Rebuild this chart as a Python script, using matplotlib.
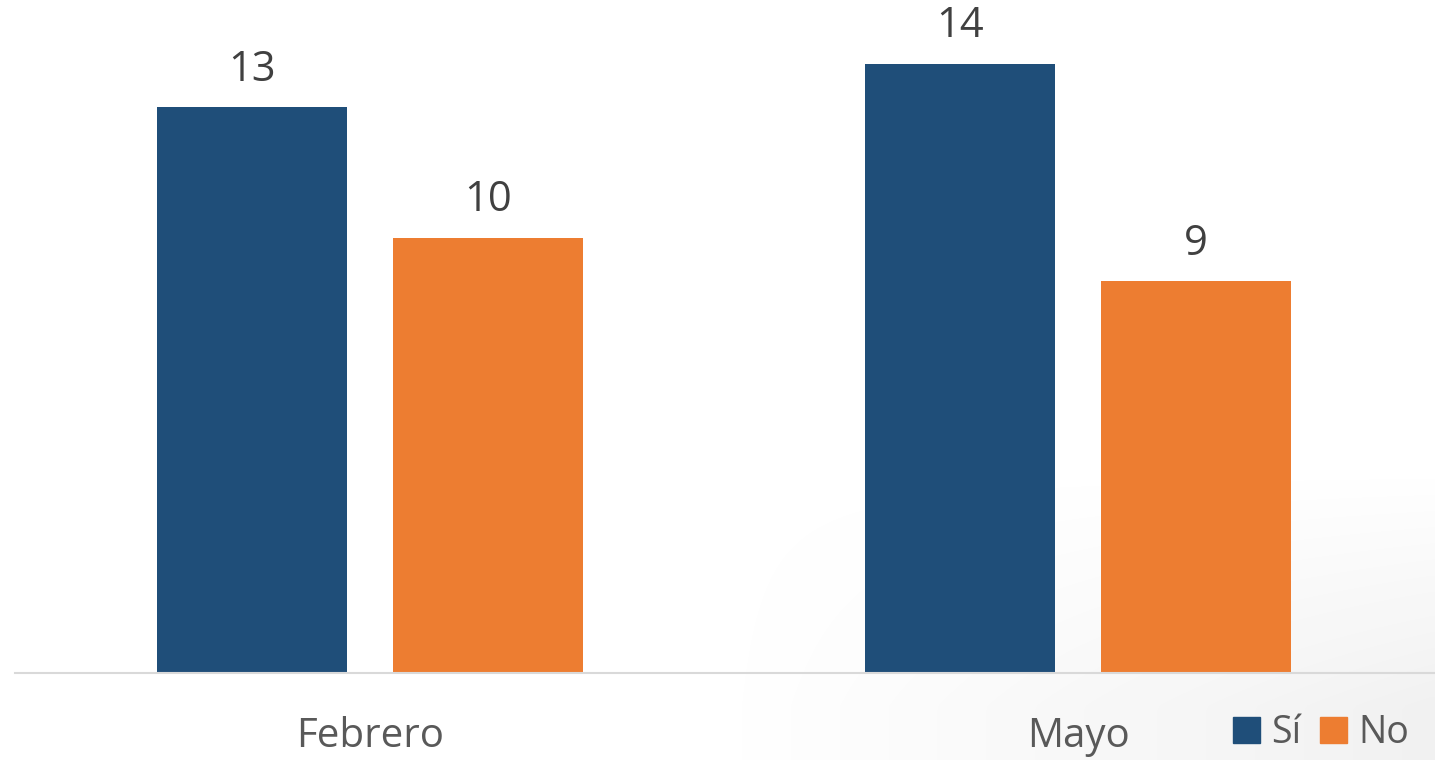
import numpy as np
import matplotlib.pyplot as plt
from matplotlib.patches import Patch

categories = ["Febrero", "Mayo"]
si_values = [13, 14]
no_values = [10, 9]
series_names = ["Sí", "No"]

plt.rcParams['font.family'] = ['Open Sans', 'DejaVu Sans']

fig = plt.figure(figsize=(14.35, 7.6), dpi=100)
fig.patch.set_facecolor('white')

# soft gray shading in the lower right corner
bg = fig.add_axes([0, 0, 1, 1], zorder=-10)
gx, gy = np.meshgrid(np.linspace(0, 1, 300), np.linspace(0, 1, 160))
shade = np.clip((gx - 0.5) * 1.6, 0, 1) * np.clip((0.38 - gy) * 3.2, 0, 1)
bg.imshow(shade, cmap='Greys', vmin=0, vmax=7, origin='lower',
          extent=[0, 1, 0, 1], aspect='auto', interpolation='bilinear')
bg.set_axis_off()

ax = fig.add_axes([15 / 1435, 87 / 760, 1420 / 1435, 673 / 760])
ax.patch.set_alpha(0)

x = np.arange(len(categories))
w = 0.268
off = 0.1667
b1 = ax.bar(x - off, si_values, w, color='#1F4E79')
b2 = ax.bar(x + off, no_values, w, color='#ED7D31')

for bars in (b1, b2):
    for rect in bars:
        h = rect.get_height()
        ax.annotate(f"{h:g}", (rect.get_x() + rect.get_width() / 2, h),
                    xytext=(0, 12), textcoords='offset points',
                    ha='center', va='bottom', fontsize=30, color='#404040')

ax.set_xlim(-0.5014, 1.504)
ax.set_ylim(0, 15.47)
ax.set_yticks([])
ax.set_xticks(x)
ax.set_xticklabels(categories, fontsize=29, color='#595959')
ax.tick_params(axis='x', length=0, pad=31)
for s in ['top', 'right', 'left']:
    ax.spines[s].set_visible(False)
ax.spines['bottom'].set_color('#D9D9D9')
ax.spines['bottom'].set_linewidth(1.5)

handles = [Patch(color='#1F4E79'), Patch(color='#ED7D31')]
fig.legend(handles, series_names, loc='center right',
           bbox_to_anchor=(1428 / 1435, 1 - 733 / 760), ncol=2, frameon=False,
           fontsize=27, labelcolor='#595959', handlelength=0.72, handleheight=0.72,
           handletextpad=0.3, columnspacing=0.5, borderpad=0)

fig.savefig('out.png', dpi=100)
